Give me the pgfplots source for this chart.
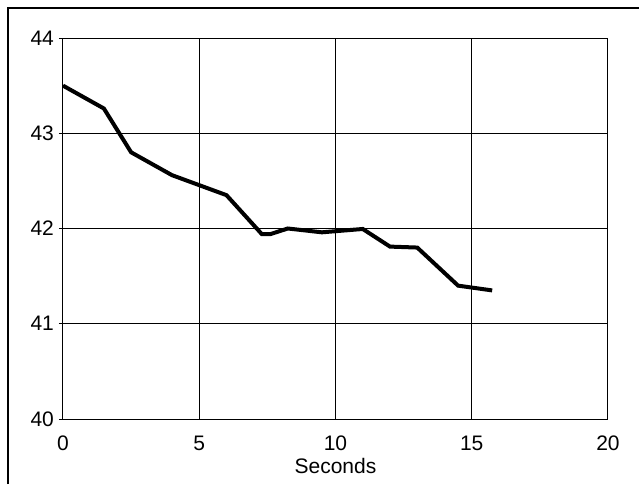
\documentclass[border=0pt]{standalone}
\usepackage{fontspec}
\setmainfont{Liberation Sans}
\usepackage{pgfplots}
\pgfplotsset{compat=1.18}
\begin{document}
\begin{tikzpicture}
\useasboundingbox (0,0) rectangle (319.5pt,242pt);
\draw[line width=1.25pt] (4pt,0) -- (4pt,238pt) -- (319.5pt,238pt);
\begin{axis}[
  at={(31.5pt,32.5pt)}, anchor=south west,
  width=272.5pt, height=190.5pt, scale only axis,
  xmin=0, xmax=20, ymin=40, ymax=44,
  xtick={0,5,10,15,20}, ytick={40,41,42,43,44},
  grid=major,
  major grid style={black, line width=0.5pt},
  axis line style={black, line width=0.5pt},
  tick style={black, line width=0.5pt},
  xtick style={draw=none},
  ytick pos=left, tick align=outside, major tick length=2pt,
  xtick pos=bottom,
  /pgf/number format/assume math mode=true,
  tick label style={font=\fontsize{10.5}{12}\selectfont},
  xticklabel style={yshift=-3pt},
  yticklabel style={xshift=1pt},
  xlabel={Seconds},
  xlabel style={font=\fontsize{10.5}{12}\selectfont, yshift=3pt},
]
\addplot[black, line width=2pt, mark=none] coordinates {
(0,43.5) (1.5,43.26) (2.5,42.8) (4,42.56) (6,42.35) (7.3,41.94) (7.6,41.94)
(8.25,42.0) (9.5,41.96) (11,41.995) (12,41.81) (13,41.8) (14.5,41.4) (15.75,41.35)
};
\end{axis}
\end{tikzpicture}
\end{document}
